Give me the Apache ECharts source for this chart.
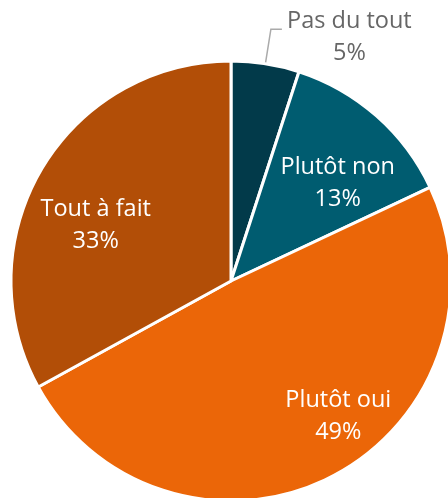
<!DOCTYPE html>
<html lang="fr">
<head>
    <meta charset="UTF-8">
    <title>Pie</title>
    <script src="https://cdn.jsdelivr.net/npm/echarts@6/dist/echarts.min.js"></script>
    <style>
        html, body { margin: 0; padding: 0; background: #fff; }
        #chart { width: 448px; height: 498px; }
    </style>
</head>
<body>
<div id="chart"></div>
<script>
    var categories = ['Pas du tout', 'Plutôt non', 'Plutôt oui', 'Tout à fait'];
    var values = [5, 13, 49, 33];
    var colors = ['#023a4a', '#005c70', '#eb6608', '#b24e07'];
    // label nudges relative to the default spot
    var nudges = [[0, 0], [32, -13], [56, 35], [-38, 2]];

    var chart = echarts.init(document.getElementById('chart'));
    var data = [];
    for (var i = 0; i < categories.length; i++) {
        var item = {value: values[i], name: categories[i], itemStyle: {color: colors[i]}};
        if (i === 0) {
            item.label = {
                position: 'outside',
                color: '#666',
                padding: [16, 0, 0, 0],
                formatter: '{a|{b}}\n{a|{c}%}',
                rich: {a: {width: 125, align: 'center', fontSize: 23.5, lineHeight: 32, color: '#666', fontFamily: 'Open Sans'}}
            };
            item.labelLine = {show: true, length: 35, length2: 11, lineStyle: {color: '#aaa', width: 1.5}};
        }
        data.push(item);
    }

    chart.setOption({
        animation: false,
        series: [{
            type: 'pie',
            center: [231, 281],
            radius: 220,
            startAngle: 90,
            clockwise: true,
            data: data,
            itemStyle: {borderColor: '#fff', borderWidth: 3},
            label: {
                position: 'inside',
                color: '#fff',
                fontFamily: 'Open Sans',
                fontSize: 23.5,
                lineHeight: 32,
                formatter: '{b}\n{c}%'
            },
            labelLine: {show: false},
            labelLayout: function (p) {
                return {dx: nudges[p.dataIndex][0], dy: nudges[p.dataIndex][1]};
            }
        }]
    });
</script>
</body>
</html>
